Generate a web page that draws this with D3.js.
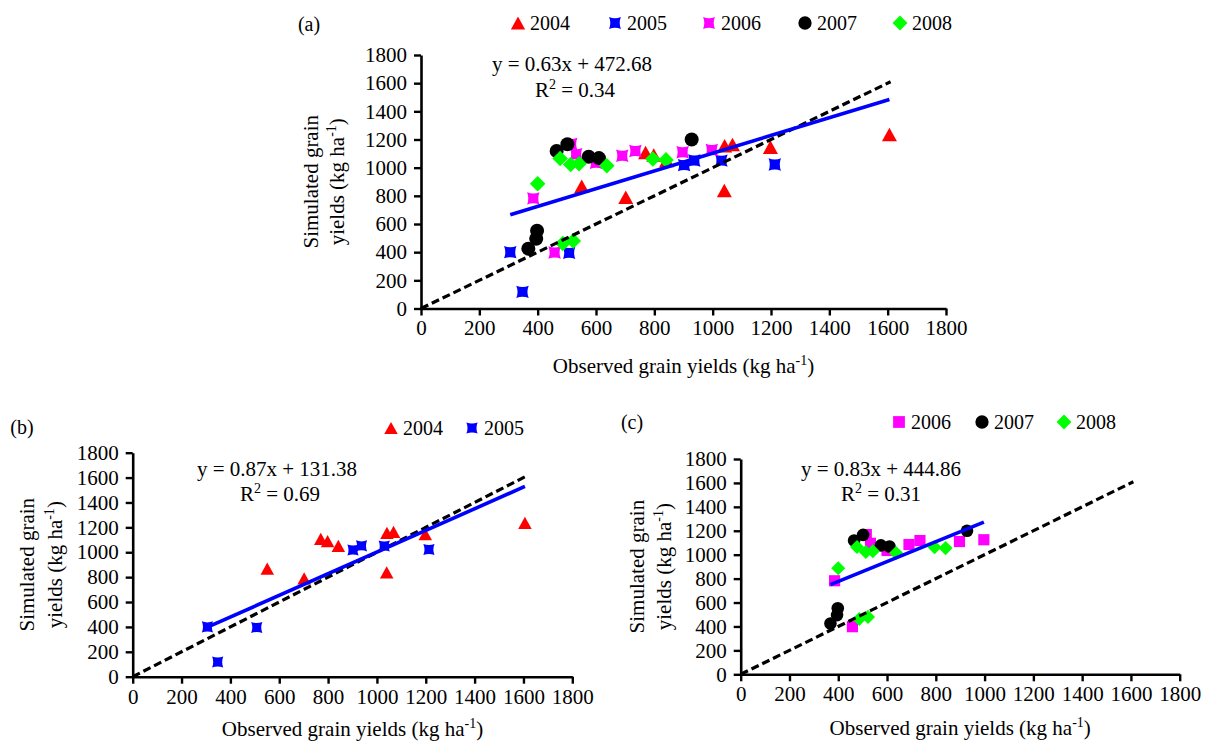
<!DOCTYPE html>
<html>
<head>
<meta charset="utf-8">
<script src="https://cdn.jsdelivr.net/npm/d3@7"></script>
<style>
  html, body { margin: 0; padding: 0; background: #fff; }
  svg { display: block; font-family: "Liberation Serif", "Times New Roman", serif; }
  svg text { font-family: "Liberation Serif", "Times New Roman", serif; }
</style>
</head>
<body>
<svg id="chart" width="1205" height="742"></svg>
<script>
// Observed vs simulated grain yields (kg/ha), one pair of arrays per season
const axisTicks = [0, 200, 400, 600, 800, 1000, 1200, 1400, 1600, 1800];
const years = ["2004", "2005", "2006", "2007", "2008"];

const obs2004 = [551, 702, 770, 798, 842, 1041, 1068, 1040, 1198, 1606];
const sim2004 = [868, 790, 1108, 1090, 1051, 1156, 1164, 838, 1146, 1236];
const obs2005 = [306, 348, 508, 902, 937, 1030, 1213];
const sim2005 = [400, 118, 395, 1018, 1051, 1050, 1022];
const obs2006 = [385, 458, 515, 532, 600, 690, 735, 897, 997];
const sim2006 = [782, 398, 1168, 1095, 1035, 1085, 1118, 1110, 1125];
const obs2007 = [368, 395, 398, 465, 502, 575, 610, 928];
const sim2007 = [425, 495, 552, 1118, 1166, 1078, 1068, 1200];
const obs2008 = [400, 477, 513, 542, 637, 486, 522, 795, 840];
const sim2008 = [886, 1065, 1022, 1028, 1014, 462, 480, 1062, 1055];

// Linear fits printed on each panel
const panelNames = ["(a)", "(b)", "(c)"];
const panelYears = [["2004", "2005", "2006", "2007", "2008"], ["2004", "2005"], ["2006", "2007", "2008"]];
const fitSlopes = [0.63, 0.87, 0.83];
const fitIntercepts = [472.68, 131.38, 444.86];
const fitR2 = ["0.34", "0.69", "0.31"];
const oneToOneMax = 1610;

const seriesData = {
  "2004": d3.zip(obs2004, sim2004),
  "2005": d3.zip(obs2005, sim2005),
  "2006": d3.zip(obs2006, sim2006),
  "2007": d3.zip(obs2007, sim2007),
  "2008": d3.zip(obs2008, sim2008)
};
const seriesColor = { "2004": "#ff0000", "2005": "#0000ff", "2006": "#ff00ff", "2007": "#000000", "2008": "#00ff00" };
const seriesShape = { "2004": "triangle", "2005": "xsquare", "2006": "xsquare", "2007": "circle", "2008": "diamond" };

// Marker outlines, centred on the data point; k scales them
function markerPath(shape, k) {
  const p = d3.path();
  if (shape === "triangle") {
    const w = 7.5 * k, h = 6.8 * k;
    p.moveTo(0, -h); p.lineTo(w, h); p.lineTo(-w, h); p.closePath();
  } else if (shape === "circle") {
    const r = 7 * k;
    p.arc(0, 0, r, 0, 2 * Math.PI);
  } else if (shape === "diamond") {
    const s = 7.8 * k;
    p.moveTo(0, -s); p.lineTo(s, 0); p.lineTo(0, s); p.lineTo(-s, 0); p.closePath();
  } else if (shape === "square") {
    const s = 6.2 * k;
    p.rect(-s, -s, 2 * s, 2 * s);
  } else { // square with slightly pinched sides
    const s = 6.2 * k, c = 0.6 * s;
    p.moveTo(-s, -s);
    p.quadraticCurveTo(0, -c, s, -s);
    p.quadraticCurveTo(c, 0, s, s);
    p.quadraticCurveTo(0, c, -s, s);
    p.quadraticCurveTo(-c, 0, -s, -s);
    p.closePath();
  }
  return p.toString();
}

const layouts = [
  { x0: 421, x1: 946, y0: 308.5, y1: 55, tag: [309, 24], legendY: 23, legendX: [518, 615, 709, 805, 900],
    eq: [572, 64], r2: [575, 90], titleOff: [-110, -84], xTitle: 57, k: 1, legendK: 0.95, shapes: {} },
  { x0: 132.7, x1: 572.3, y0: 676.7, y1: 452.7, tag: [22, 427], legendY: 428, legendX: [391, 472],
    eq: [277, 469], r2: [280, 494], titleOff: [-106, -78], xTitle: 52, k: 0.9, legendK: 0.9, shapes: {} },
  { x0: 740.7, x1: 1179.7, y0: 674.3, y1: 459, tag: [632, 422], legendY: 422, legendX: [899, 982, 1064],
    eq: [881, 469], r2: [881, 494], titleOff: [-104, -77], xTitle: 53, k: 0.9, legendK: 0.95, shapes: { "2006": "square" } }
];

const serif = "'Liberation Serif','Times New Roman',serif";
const svg = d3.select("#chart");
svg.append("rect").attr("width", 1205).attr("height", 742).attr("fill", "#fff");

layouts.forEach((L, i) => {
  const g = svg.append("g");
  const x = d3.scaleLinear().domain([0, 1800]).range([L.x0, L.x1]);
  const y = d3.scaleLinear().domain([0, 1800]).range([L.y0, L.y1]);
  const yrs = panelYears[i];
  const shapeOf = yr => L.shapes[yr] || seriesShape[yr];

  // axes
  const xAxis = g.append("g").attr("transform", `translate(0,${L.y0})`)
    .call(d3.axisBottom(x).tickValues(axisTicks).tickFormat(d3.format("d")).tickSize(7).tickSizeOuter(0).tickPadding(5));
  const yAxis = g.append("g").attr("transform", `translate(${L.x0},0)`)
    .call(d3.axisLeft(y).tickValues(axisTicks).tickFormat(d3.format("d")).tickSize(7).tickSizeOuter(0).tickPadding(7));
  [xAxis, yAxis].forEach(ax => {
    ax.attr("font-family", serif).attr("font-size", 21);
    ax.select(".domain").attr("stroke", "#000").attr("stroke-width", 2.6);
    ax.selectAll(".tick line").attr("stroke", "#000").attr("stroke-width", 2.4);
    ax.selectAll(".tick text").attr("fill", "#000").attr("font-family", serif).attr("font-size", 21);
  });

  // data markers
  yrs.forEach(yr => {
    g.append("g").selectAll("path").data(seriesData[yr]).join("path")
      .attr("d", markerPath(shapeOf(yr), L.k))
      .attr("transform", d => `translate(${x(d[0])},${y(d[1])})`)
      .attr("fill", seriesColor[yr]);
  });

  // 1:1 line
  g.append("line")
    .attr("x1", x(0)).attr("y1", y(0)).attr("x2", x(oneToOneMax)).attr("y2", y(oneToOneMax))
    .attr("stroke", "#000").attr("stroke-width", 3.2).attr("stroke-dasharray", "8,4");

  // regression line over the observed range
  const allObs = yrs.flatMap(yr => seriesData[yr].map(d => d[0]));
  const [lo, hi] = d3.extent(allObs);
  const fit = v => fitSlopes[i] * v + fitIntercepts[i];
  g.append("line")
    .attr("x1", x(lo)).attr("y1", y(fit(lo))).attr("x2", x(hi)).attr("y2", y(fit(hi)))
    .attr("stroke", "#0000ff").attr("stroke-width", 3.6);

  // equation and R²
  g.append("text").attr("x", L.eq[0]).attr("y", L.eq[1]).attr("dy", "0.35em")
    .attr("text-anchor", "middle").style("font-size", "21px")
    .text(`y = ${fitSlopes[i]}x + ${fitIntercepts[i]}`);
  const r2 = g.append("text").attr("x", L.r2[0]).attr("y", L.r2[1]).attr("dy", "0.35em")
    .attr("text-anchor", "middle").style("font-size", "21px");
  r2.append("tspan").text("R");
  r2.append("tspan").attr("dy", -8).style("font-size", "14px").text("2");
  r2.append("tspan").attr("dy", 8).text(` = ${fitR2[i]}`);

  // x title
  const xt = g.append("text").attr("x", (L.x0 + L.x1) / 2).attr("y", L.y0 + L.xTitle).attr("dy", "0.35em")
    .attr("text-anchor", "middle").style("font-size", "21px");
  xt.append("tspan").text("Observed grain yields (kg ha");
  xt.append("tspan").attr("dy", -8).style("font-size", "14px").text("-1");
  xt.append("tspan").attr("dy", 8).text(")");

  // y title (two lines)
  const yc = (L.y0 + L.y1) / 2;
  g.append("text").attr("transform", `translate(${L.x0 + L.titleOff[0]},${yc}) rotate(-90)`)
    .attr("dy", "0.35em").attr("text-anchor", "middle").style("font-size", "21px")
    .text("Simulated grain");
  const yt = g.append("text").attr("transform", `translate(${L.x0 + L.titleOff[1]},${yc}) rotate(-90)`)
    .attr("dy", "0.35em").attr("text-anchor", "middle").style("font-size", "21px");
  yt.append("tspan").text("yields (kg ha");
  yt.append("tspan").attr("dy", -8).style("font-size", "14px").text("-1");
  yt.append("tspan").attr("dy", 8).text(")");

  // panel tag
  g.append("text").attr("x", L.tag[0]).attr("y", L.tag[1]).attr("dy", "0.35em")
    .attr("text-anchor", "middle").style("font-size", "20px").text(panelNames[i]);

  // legend
  yrs.forEach((yr, j) => {
    const lx = L.legendX[j];
    g.append("path").attr("d", markerPath(shapeOf(yr), L.legendK))
      .attr("transform", `translate(${lx},${L.legendY})`).attr("fill", seriesColor[yr]);
    g.append("text").attr("x", lx + 12).attr("y", L.legendY).attr("dy", "0.35em")
      .style("font-size", "20px").text(yr);
  });
});
</script>
</body>
</html>
